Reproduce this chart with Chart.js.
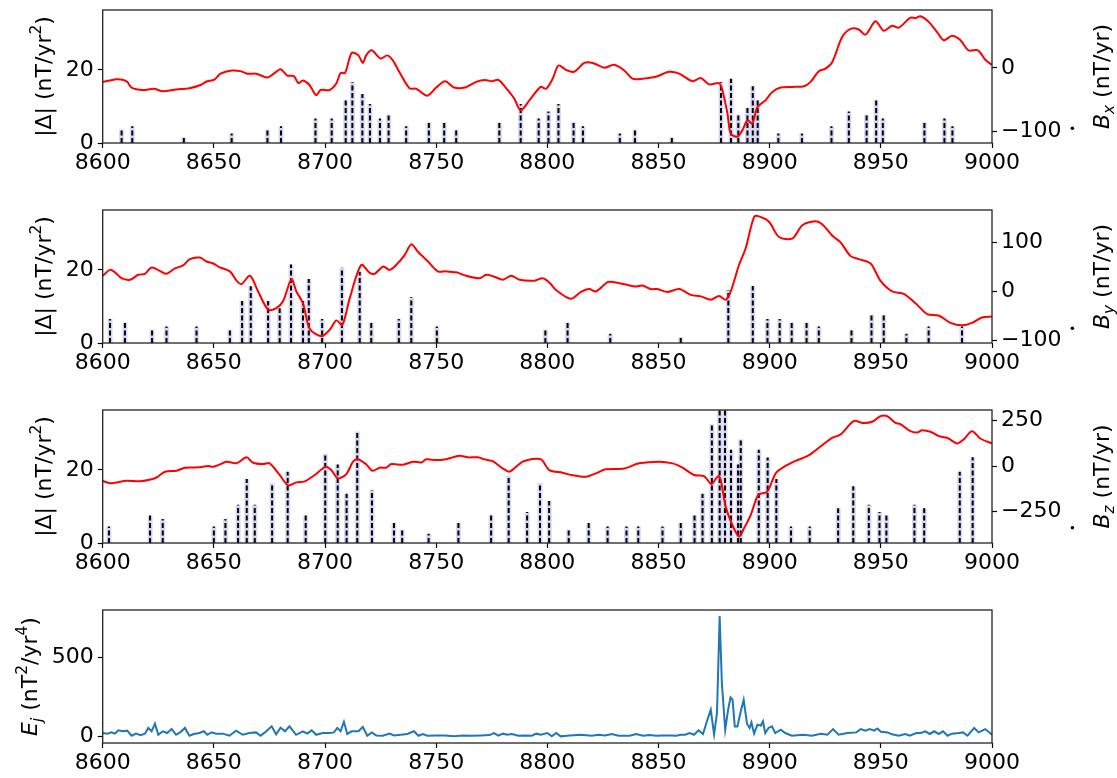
<!DOCTYPE html>
<html>
<head>
<meta charset="utf-8">
<script src="https://cdn.jsdelivr.net/npm/chart.js@4.4.1/dist/chart.umd.min.js"></script>
<style>
  body { margin: 0; background: #fff; }
  #wrap { position: relative; width: 1117px; height: 778px; }
  canvas { position: absolute; left: 0; }
</style>
</head>
<body>
<div id="wrap">
  <canvas id="c1" width="1117" height="178" style="top:5px"></canvas>
  <canvas id="c2" width="1117" height="178" style="top:205px"></canvas>
  <canvas id="c3" width="1117" height="178" style="top:405px"></canvas>
  <canvas id="c4" width="1117" height="178" style="top:605px"></canvas>
</div>
<script>
// --- Tick values ---
const xTicks = [8600, 8650, 8700, 8750, 8800, 8850, 8900, 8950, 9000];
const deltaTicks = [0, 20];
const bxTicks = [-100, 0];
const byTicks = [-100, 0, 100];
const bzTicks = [-250, 0, 250];
const eTicks = [0, 500];

// --- Panel 1: |Delta| bars and Bx secular variation ---
const bxBarX = [8608.5, 8613.3, 8636.5, 8658, 8674.1, 8680.2, 8695.7, 8703, 8709.3, 8712.3, 8716.8, 8720.2, 8724.7, 8728.6, 8736.5, 8746.7, 8753.6, 8759, 8778.4, 8788, 8796.1, 8800.5, 8805, 8811.8, 8816, 8832.6, 8839.4, 8856, 8878.1, 8882.6, 8885.9, 8890, 8892.4, 8894.6, 8903.9, 8914.5, 8927.8, 8935.6, 8943.6, 8947.9, 8950.9, 8969.6, 8978.6, 8982.2];
const bxBarH = [3.7, 4.6, 1.6, 2.6, 3.7, 4.6, 6.7, 6.7, 11.7, 16.6, 13.4, 10.7, 6.7, 7.7, 4.6, 5.7, 5.7, 3.7, 5.7, 10.7, 6.7, 8.6, 10.7, 5.7, 4.6, 2.6, 3.7, 1.6, 16.6, 17.6, 7.7, 9.6, 15.5, 11.7, 2.6, 2.6, 4.6, 8.6, 7.7, 11.7, 6.7, 5.7, 6.7, 4.6];
const bxLineX = [8600, 8603.3, 8606, 8609, 8611, 8613, 8618, 8623, 8627, 8633, 8639, 8644, 8647, 8650, 8653, 8658, 8662, 8665, 8669, 8674, 8677, 8680, 8683, 8686, 8688, 8690, 8693, 8696, 8698, 8702, 8705, 8707, 8709, 8712, 8715, 8717, 8718.5, 8721, 8725, 8728, 8730.5, 8734, 8738, 8741, 8746, 8750, 8754, 8758, 8763, 8768, 8772, 8775, 8778, 8781, 8785, 8788, 8792, 8797, 8799.4, 8802.4, 8805, 8808.4, 8812, 8816.6, 8820.4, 8825.6, 8830, 8834.6, 8838.3, 8842.8, 8848.8, 8854.8, 8859.3, 8865.3, 8869, 8872.8, 8877.2, 8878.7, 8881, 8882.5, 8885.5, 8887.7, 8890, 8892.2, 8894.5, 8898.2, 8901.2, 8904.9, 8910.2, 8915.4, 8918.4, 8922.1, 8925.1, 8928.1, 8932.6, 8936.4, 8940.1, 8943.1, 8947.6, 8951.3, 8955.1, 8958.1, 8963.3, 8965.6, 8967.8, 8971.6, 8975.3, 8978.3, 8982, 8985.8, 8989.5, 8993.7, 8997, 9000];
const bxLineY = [-22, -20, -18, -18.5, -22, -31, -35, -33, -37, -34, -32, -27, -21, -19, -9, -4, -5, -9, -9, -15, -9, -2, -12, -13, -24, -20, -27, -43, -35, -35, -25, -8, -8, 24, 20, 8, 20, 28, 15, 20, 12, -10, -32, -33, -44, -31, -21, -31, -31, -22, -19, -21, -19, -30, -48, -67, -51, -30, -33, -17, 4, -3, -6, 8, 8, 0.5, 5, -4, -17, -17, -14, -6, -9, -21, -16, -26, -24, -35, -72, -104, -109, -99, -83, -88, -62, -51, -38, -31, -30, -29, -22, -5, -1, 9, 49, 62, 61, 53, 74, 59, 67, 64, 80, 79, 82, 73, 57, 44, 51, 44, 28, 28, 13, 5];

// --- Panel 2: |Delta| bars and By secular variation ---
const byBarX = [8603.3, 8610, 8622.2, 8628.7, 8642.2, 8657.2, 8662.7, 8666.6, 8674.4, 8679.6, 8684.7, 8690.1, 8692.7, 8698.7, 8707.6, 8715.6, 8720.8, 8733.2, 8738.8, 8750.3, 8799.1, 8809.1, 8828.3, 8860, 8881.4, 8892.4, 8899, 8904.5, 8909.9, 8916.6, 8922.1, 8936.8, 8945.8, 8951.3, 8961.5, 8971.5, 8986.5];
const byBarH = [6.6, 5.6, 3.6, 4.5, 4.5, 3.6, 11.5, 15.5, 11.5, 9.5, 21.5, 11.5, 17.5, 6.6, 20.6, 19.5, 5.6, 6.6, 12.5, 4.5, 3.6, 5.6, 2.5, 1.6, 14.5, 15.6, 6.6, 6.6, 5.6, 5.6, 4.5, 3.6, 7.7, 7.7, 2.5, 4.5, 4.5];
const byLineX = [8600, 8603.3, 8605.5, 8608.5, 8612.3, 8616, 8619, 8622, 8625.7, 8628.7, 8632.5, 8636.2, 8639.2, 8643.7, 8646.7, 8649.7, 8652.7, 8657.2, 8660.2, 8662.4, 8666.2, 8669.9, 8674.4, 8678.1, 8681.1, 8684.9, 8687.1, 8690.1, 8693.1, 8698.4, 8702.1, 8705.1, 8707.8, 8711.1, 8716.3, 8720.1, 8722.3, 8726.2, 8729, 8732, 8735.8, 8738.8, 8741.8, 8746.3, 8750.7, 8754.5, 8759, 8763.5, 8769.5, 8772.5, 8776.2, 8780, 8783.7, 8787.5, 8794.2, 8797.9, 8801, 8803.9, 8810.6, 8815.1, 8818.9, 8821.8, 8827.1, 8830.1, 8835.3, 8839.8, 8842.8, 8846.5, 8849.5, 8854, 8859.3, 8864.5, 8869, 8873.5, 8877.2, 8880.2, 8882.5, 8886.2, 8889.2, 8893, 8895.2, 8899.7, 8904.2, 8910.2, 8914.7, 8920.6, 8923.6, 8928.1, 8931.9, 8936.4, 8940.1, 8945.4, 8949.8, 8955.1, 8960.3, 8965.6, 8970.8, 8976, 8981.3, 8986.5, 8991, 8995.5, 9000];
const byLineY = [32, 44, 39, 27, 24, 34, 36, 49, 42, 36, 47, 53, 66, 69, 61, 57, 49, 41, 22, 15, 32, 0, -37, -34, -20, 25, 0, -24, -76, -91, -78, -59, -68, -14, 54, 38, 36, 51, 44, 54, 74, 96, 81, 61, 41, 41, 39, 32, 27, 34, 30, 24, 32, 24, 22, 27, 18, 3, -15, -1, 5, 0, 19, 19, 14, 10, 12, 5, 5, -1, 5, -7, -10, -17, -9, -17, 0, 54, 88, 152, 153, 142, 111, 108, 135, 143, 137, 114, 100, 72, 66, 57, 22, 0, -5, -24, -46, -49, -64, -69, -64, -53, -51];

// --- Panel 3: |Delta| bars and Bz secular variation ---
const bzBarX = [8602.8, 8621.3, 8627, 8650, 8655.2, 8660.9, 8664.8, 8668.4, 8676.2, 8683.2, 8691.3, 8700.1, 8705.7, 8709.7, 8714.5, 8721.1, 8731, 8734.7, 8746.6, 8760, 8774.7, 8782.6, 8790.9, 8796.7, 8800.8, 8809.6, 8818.6, 8827.1, 8835.6, 8840.9, 8851.8, 8860, 8866.2, 8869.8, 8874, 8877.5, 8879.9, 8882.6, 8885.8, 8887, 8895.1, 8899.1, 8903, 8909.6, 8918, 8930.8, 8937.6, 8944.6, 8949.4, 8952.5, 8965.1, 8969.5, 8985.5, 8991.3];
const bzBarH = [4.5, 7.5, 6.6, 4.5, 6.6, 10.5, 17.5, 10.5, 16.4, 19.5, 7.5, 24.4, 21.5, 13.5, 30.5, 14.5, 5.5, 3.6, 2.5, 5.5, 7.5, 18.4, 8.5, 16.4, 11.5, 3.6, 5.5, 4.5, 4.5, 4.5, 4.5, 5.5, 7.5, 13.5, 32.5, 40, 40, 25.5, 21.5, 28.4, 25.5, 23.4, 17.5, 4.5, 4.5, 9.5, 15.5, 10.5, 8.5, 7.5, 10.5, 9.5, 19.5, 23.5];
const bzLineX = [8600, 8603.3, 8606.3, 8610.8, 8616.8, 8622, 8624.3, 8628, 8633.2, 8637, 8643, 8647.5, 8649.7, 8652.7, 8655.7, 8660.2, 8664.7, 8667.7, 8672.2, 8675.1, 8679.6, 8683.4, 8687.1, 8690.9, 8695.4, 8700.3, 8702.8, 8705.8, 8709.6, 8712.6, 8714.8, 8718.6, 8721.3, 8724.6, 8727.5, 8729.8, 8735, 8739.5, 8743.3, 8745.5, 8750, 8754.5, 8757.5, 8760.5, 8764.2, 8768.7, 8771.7, 8775.4, 8779.9, 8782.9, 8785.9, 8788.9, 8792.7, 8797.2, 8800.9, 8806.9, 8811.4, 8817.4, 8821.8, 8826.3, 8834.6, 8841.3, 8850.3, 8856.3, 8860.8, 8866, 8870.5, 8873.8, 8876.8, 8878, 8880.2, 8883.2, 8886.2, 8888.5, 8891.5, 8894.9, 8898.9, 8902.7, 8906.4, 8911.7, 8917.7, 8923.6, 8928.1, 8931.9, 8937.9, 8941.6, 8946.1, 8949.8, 8952.8, 8956.6, 8958.8, 8963.3, 8966.3, 8968.6, 8972.3, 8976.1, 8979.8, 8984.3, 8987.3, 8991, 8994.7, 9000];
const bzLineY = [-82, -95, -90, -81, -84, -73, -62, -31, -26, -9, -7, 0, -4, 9, 24, 16, 48, 18, 11, 15, -49, -106, -90, -84, -49, -4, -22, -68, -44, 24, 38, 9, -26, -9, -9, 11, 7, 24, 20, 37, 33, 38, 48, 57, 48, 48, 37, 27, -13, -31, -4, 24, 38, 37, -22, -37, -51, -59, -40, -18, -13, 15, 24, 15, -9, -49, -55, -99, -55, -77, -223, -324, -388, -342, -269, -159, -141, -40, -4, 29, 60, 115, 156, 174, 249, 238, 244, 275, 275, 238, 231, 192, 185, 198, 189, 165, 156, 125, 147, 192, 152, 125];

// --- Panel 4: jerk energy E_j ---
const eX = [8600, 8602, 8604, 8605.5, 8607, 8609, 8611, 8613, 8615, 8617, 8619, 8620.5, 8622, 8623.5, 8625, 8627, 8629, 8631, 8633, 8635, 8637, 8639, 8641, 8643.5, 8645.5, 8647, 8649, 8651, 8654, 8657, 8660, 8663, 8666, 8669, 8671, 8673, 8676, 8678, 8680, 8682, 8684, 8687, 8690, 8692, 8694, 8696, 8699, 8702, 8704, 8705.5, 8707, 8708.5, 8710, 8712, 8715, 8717, 8719, 8721, 8723, 8726, 8729, 8731, 8734, 8737, 8740, 8742, 8744, 8746, 8750, 8754, 8758, 8762, 8766, 8770, 8774, 8776, 8778, 8780, 8782, 8784, 8787, 8790, 8793, 8795, 8797, 8800, 8802, 8804, 8806, 8810, 8815, 8820, 8823, 8826, 8829, 8832, 8837, 8840, 8843, 8846, 8849, 8852, 8855, 8858, 8860, 8862, 8864, 8866, 8868, 8870, 8872, 8873.5, 8875, 8876.3, 8877.5, 8878.5, 8880, 8881.3, 8882.4, 8883.3, 8884.3, 8885.5, 8887, 8888.3, 8889.8, 8891, 8891.8, 8893, 8894.5, 8896, 8897, 8898, 8899.5, 8901, 8902.5, 8905, 8907, 8910, 8915, 8919, 8923, 8926, 8928.5, 8931, 8935, 8939, 8941, 8943, 8945, 8947, 8948.5, 8950, 8953, 8955, 8958, 8961, 8963, 8966, 8968, 8970, 8972, 8974, 8976, 8978, 8980, 8982, 8985, 8987, 8989, 8992, 8994, 8997, 9000];
const eY = [21, 17, 25, 17, 38, 32, 36, 4, 17, 8, 17, 53, 32, 80, 10, 32, 21, 46, 10, 27, 53, 4, 15, 21, 32, 10, 25, 17, 17, 4, 36, 10, 21, 25, 4, 25, 63, 13, 55, 32, 63, 10, 32, 17, 38, 10, 21, 21, 25, 53, 32, 92, 15, 32, 32, 59, 4, 25, 6, 4, 17, 6, 10, 15, 32, 4, 15, 4, 6, 6, 0, 6, 4, 6, 8, 21, 4, 17, 10, 15, 4, 6, 4, 17, 10, 21, 0, 21, 0, 6, 10, 4, 10, 6, 15, 4, 4, 15, 4, 8, 4, 6, 6, 4, 10, 10, 21, 10, 38, 15, 105, 168, 13, 147, 760, 336, 42, 168, 246, 231, 63, 63, 158, 231, 80, 53, 88, 17, 74, 67, 95, 21, 53, 63, 21, 42, 21, 4, 10, 4, 17, 10, 46, 10, 21, 25, 46, 36, 46, 36, 50, 29, 25, 13, 4, 15, 4, 21, 21, 32, 15, 32, 15, 32, 4, 17, 21, 25, 4, 53, 25, 46, 10];

const FONT = '"DejaVu Sans", sans-serif';
const FS = 22;

// --- Helpers ---
function toPoints(xs, ys) {
    return xs.map((x, i) => ({ x: x, y: ys[i] }));
}

// vertical segments from 0 to h, broken with null gaps
function toStems(xs, hs) {
    let pts = [];
    xs.forEach((x, i) => {
        pts.push({ x: x, y: 0 });
        pts.push({ x: x, y: hs[i] });
        pts.push({ x: x, y: null });
    });
    return pts;
}

function fmtTick(v) {
    return String(v).replace('-', '\u2212');
}

function fixedTicks(list) {
    return scale => { scale.ticks = list.map(v => ({ value: v })); };
}

// fix the axis thickness and drop the label half-height padding chart.js adds
function fixedSize(w, h) {
    return s => {
        if (w !== null) s.width = w;
        if (h !== null) s.height = h;
        s.paddingTop = 0; s.paddingBottom = 0;
        s.paddingLeft = 0; s.paddingRight = 0;
    };
}

// draw a rotated label with italic / sub / sup / dot pieces
function drawRich(ctx, parts, cx, cy) {
    ctx.save();
    ctx.translate(cx, cy);
    ctx.rotate(-Math.PI / 2);
    ctx.fillStyle = '#000';
    ctx.textBaseline = 'alphabetic';
    ctx.textAlign = 'left';
    const fontOf = p => (p.it ? 'italic ' : '') + ((p.sub || p.sup) ? FS * 0.7 : FS) + 'px ' + FONT;
    let total = 0;
    parts.forEach(p => { ctx.font = fontOf(p); p.w = ctx.measureText(p.t).width; total += p.w; });
    let x = -total / 2;
    const base = FS * 0.35;
    parts.forEach(p => {
        ctx.font = fontOf(p);
        let y = base;
        if (p.sub) y = base + FS * 0.22;
        if (p.sup) y = base - FS * 0.42;
        ctx.fillText(p.t, x, y);
        if (p.dot) {
            ctx.beginPath();
            ctx.arc(x + p.w * 0.05, base - FS * 1.65, FS * 0.08, 0, Math.PI * 2);
            ctx.fill();
        }
        x += p.w;
    });
    ctx.restore();
}

const frameAndTitles = {
    id: 'frameAndTitles',
    afterDraw(chart, args, opts) {
        const ctx = chart.ctx;
        const a = chart.chartArea;
        const cy = (a.top + a.bottom) / 2;
        if (opts.left) drawRich(ctx, opts.left, opts.leftX, cy);
        if (opts.right) drawRich(ctx, opts.right, opts.rightX, cy);
        ctx.save();
        ctx.strokeStyle = '#222';
        ctx.lineWidth = 1.3;
        ctx.strokeRect(a.left, a.top, a.right - a.left, a.bottom - a.top);
        ctx.restore();
    }
};

function axisStyle(extra) {
    return Object.assign({
        grid: { display: true, drawOnChartArea: false, drawTicks: true, tickLength: 5, tickColor: '#000', tickWidth: 1.2 },
        border: { display: false },
        ticks: { color: '#000', font: { family: FONT, size: FS }, padding: 4, autoSkip: false, maxRotation: 0, callback: fmtTick }
    }, extra);
}

function xAxis() {
    let ax = axisStyle({
        type: 'linear', position: 'bottom', min: 8600, max: 9000,
        afterBuildTicks: fixedTicks(xTicks),
        afterFit: fixedSize(null, 40)
    });
    ax.ticks.padding = 2;
    return ax;
}

const deltaLabel = [{ t: '|\u0394| (nT/yr' }, { t: '2', sup: true }, { t: ')' }];
function bLabel(c) {
    return [{ t: 'B', it: true, dot: true }, { t: c, it: true, sub: true }, { t: ' (nT/yr)' }];
}
const eLabel = [{ t: 'E', it: true }, { t: 'j', it: true, sub: true }, { t: ' (nT' }, { t: '2', sup: true }, { t: '/yr' }, { t: '4', sup: true }, { t: ')' }];

// --- Build one |Delta| + B-dot panel ---
function makePanel(id, barX, barH, lineX, lineY, rMin, rMax, rTicks, comp) {
    const ctx = document.getElementById(id).getContext('2d');
    return new Chart(ctx, {
        type: 'line',
        data: {
            datasets: [
                { // lavender bars
                    data: toStems(barX, barH),
                    borderColor: '#d6d6f6', borderWidth: 5, borderCapStyle: 'butt',
                    pointRadius: 0, spanGaps: false, yAxisID: 'y', order: 3
                },
                { // dashed black stems
                    data: toStems(barX, barH),
                    borderColor: '#000', borderWidth: 2, borderDash: [5, 2.5], borderCapStyle: 'butt',
                    pointRadius: 0, spanGaps: false, yAxisID: 'y', order: 2
                },
                { // red secular variation
                    data: toPoints(lineX, lineY),
                    borderColor: '#ff0000', borderWidth: 2, tension: 0.3,
                    pointRadius: 0, yAxisID: 'y2', order: 1
                }
            ]
        },
        options: {
            responsive: false, animation: false, devicePixelRatio: 1,
            layout: { padding: { top: 5, left: 0, right: 0, bottom: 0 } },
            scales: {
                x: xAxis(),
                y: axisStyle({ position: 'left', min: 0, max: 36.4, afterBuildTicks: fixedTicks(deltaTicks), afterFit: fixedSize(102.7, null) }),
                y2: axisStyle({ position: 'right', min: rMin, max: rMax, afterBuildTicks: fixedTicks(rTicks), afterFit: fixedSize(125, null) })
            },
            plugins: {
                legend: { display: false }, tooltip: { enabled: false },
                frameAndTitles: { left: deltaLabel, leftX: 43, right: bLabel(comp), rightX: 1101 }
            }
        },
        plugins: [frameAndTitles]
    });
}

makePanel('c1', bxBarX, bxBarH, bxLineX, bxLineY, -119, 92, bxTicks, 'x');
makePanel('c2', byBarX, byBarH, byLineX, byLineY, -105, 166, byTicks, 'y');
makePanel('c3', bzBarX, bzBarH, bzLineX, bzLineY, -424, 309, bzTicks, 'z');

// --- Jerk energy panel ---
new Chart(document.getElementById('c4').getContext('2d'), {
    type: 'line',
    data: {
        datasets: [{
            data: toPoints(eX, eY),
            borderColor: '#1f77b4', borderWidth: 2, tension: 0, pointRadius: 0
        }]
    },
    options: {
        responsive: false, animation: false, devicePixelRatio: 1,
        layout: { padding: { top: 5, left: 0, right: 125, bottom: 0 } },
        scales: {
            x: xAxis(),
            y: axisStyle({ position: 'left', min: -42, max: 798, afterBuildTicks: fixedTicks(eTicks), afterFit: fixedSize(102.7, null) })
        },
        plugins: {
            legend: { display: false }, tooltip: { enabled: false },
            frameAndTitles: { left: eLabel, leftX: 29 }
        }
    },
    plugins: [frameAndTitles]
});
</script>
</body>
</html>
